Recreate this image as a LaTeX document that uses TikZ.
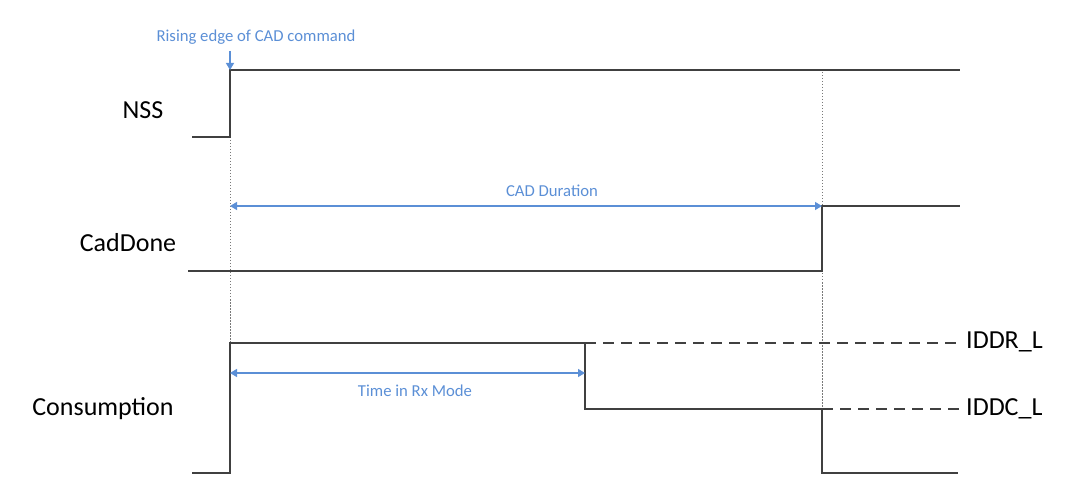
\documentclass[tikz,border=0pt]{standalone}
\usepackage{fontspec}
\setmainfont{Carlito}
\usetikzlibrary{arrows.meta}
\definecolor{sig}{RGB}{64,64,64}
\definecolor{ann}{RGB}{91,143,214}
\tikzset{
  wave/.style={draw=sig, line width=1.6pt},
  waveDash/.style={draw=sig, line width=1.4pt, dash pattern=on 11pt off 7pt},
  guide/.style={draw=sig!70, line width=1pt, dash pattern=on 1.5pt off 1.5pt},
  span/.style={draw=ann, line width=1.3pt, {Triangle[width=8pt,length=7pt]}-{Triangle[width=8pt,length=7pt]}},
  pointer/.style={draw=ann, line width=1.3pt, -{Triangle[width=8pt,length=7pt]}},
  siglabel/.style={font=\fontsize{26}{28}\selectfont, text=black, inner sep=0pt},
  annlabel/.style={font=\fontsize{16.7}{18}\selectfont, text=ann, inner sep=0pt},
}
\begin{document}
\begin{tikzpicture}[x=1pt,y=-1pt]
\useasboundingbox (0,0) rectangle (1080,497);
% signal labels
\node[siglabel] (lnss) at (143,110) {NSS};
\node[siglabel] (lcad) at (128,243) {CadDone};
\node[siglabel] (lcon) at (103,409) {Consumption};
\node[siglabel, anchor=west] (liddr) at (966,342) {IDDR\_L};
\node[siglabel, anchor=west] (liddc) at (966,409) {IDDC\_L};
% key coordinates
\coordinate (n0) at (192,137);
\coordinate (n1) at (230,137);
\coordinate (n2) at (230,70);
\coordinate (n3) at (960,70);
\coordinate (c0) at (188,271);
\coordinate (c1) at (822,271);
\coordinate (c2) at (822,206);
\coordinate (c3) at (960,206);
\coordinate (p0) at (192,473);
\coordinate (p1) at (230,473);
\coordinate (p2) at (230,343);
\coordinate (p3) at (585,343);
\coordinate (p4) at (585,409);
\coordinate (p5) at (822,409);
\coordinate (p6) at (822,473);
\coordinate (p7) at (958,473);
\coordinate (d1) at (960,343);
\coordinate (d2) at (960,409);
% guides
\draw[guide] (n1) -- (p2);
\draw[guide] (822,72) -- (p5);
% waveforms
\draw[wave] (n0) -- (n1) -- (n2) -- (n3);
\draw[wave] (c0) -- (c1) -- (c2) -- (c3);
\draw[wave] (p0) -- (p1) -- (p2) -- (p3) -- (p4) -- (p5) -- (p6) -- (p7);
\draw[waveDash] (p3) -- (d1);
\draw[waveDash] (p5) -- (d2);
% annotations
\node[annlabel] (tre) at (256,37) {Rising edge of CAD command};
\coordinate (reTop) at (230,51);
\draw[pointer] (reTop) -- (n2);
\coordinate (cdA) at (230,206);
\draw[span] (cdA) -- (c2);
\node[annlabel] (tcd) at (552,191) {CAD Duration};
\coordinate (rxA) at (230,373);
\coordinate (rxB) at (585,373);
\draw[span] (rxA) -- (rxB);
\node[annlabel] (trx) at (415,391) {Time in Rx Mode};
\end{tikzpicture}
\end{document}
